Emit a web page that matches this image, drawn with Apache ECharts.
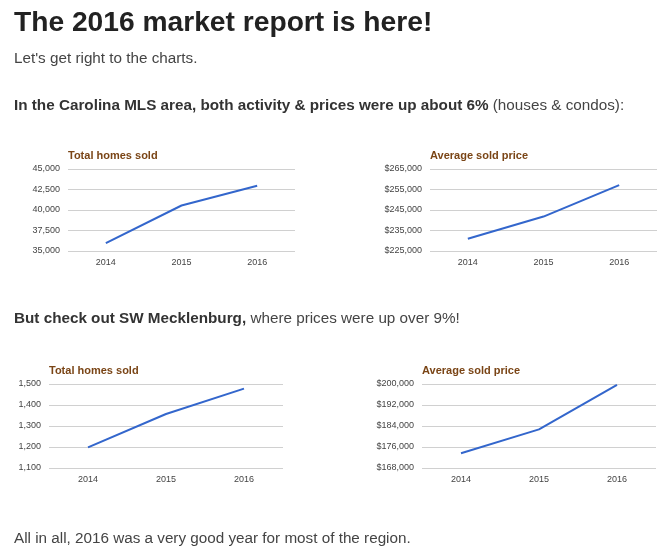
<!DOCTYPE html>
<html>
<head>
<meta charset="utf-8">
<script src="https://cdn.jsdelivr.net/npm/echarts@6/dist/echarts.min.js"></script>
<style>
  html,body{margin:0;padding:0;background:#fff;}
  #page{width:671px;height:552px;}
</style>
</head>
<body>
<div id="page"></div>
<script>
'use strict';

/* ---------- data ---------- */
const YEARS = ['2014', '2015', '2016'];
const CLT_SOLD  = [35950, 40550, 42950];
const CLT_PRICE = [231000, 241800, 257100];
const SWM_SOLD  = [1198, 1357, 1478];
const SWM_PRICE = [173600, 182700, 199700];
// [min, max, step] of each value axis
const CLT_SOLD_AXIS  = [35000, 45000, 2500];
const CLT_PRICE_AXIS = [225000, 265000, 10000];
const SWM_SOLD_AXIS  = [1100, 1500, 100];
const SWM_PRICE_AXIS = [168000, 200000, 8000];

/* ---------- look ---------- */
const FONT = 'Arial, "Liberation Sans", sans-serif';
const C = { head:'#222', body:'#444', bold:'#333', title:'#7a4516', axis:'#444', grid:'#d0d0d0', line:'#3366cc' };
const BODY = 15.25;

const num = v => v.toLocaleString('en-US');
const usd = v => '$' + v.toLocaleString('en-US');

// chart boxes: left, top, width, height
const boxes = [
  {l:68,  t:169, w:227, h:82},
  {l:430, t:169, w:227, h:82},
  {l:49,  t:384, w:234, h:84},
  {l:422, t:384, w:234, h:84},
];
const panels = [
  {name:'Total homes sold',   data:CLT_SOLD,  axis:CLT_SOLD_AXIS,  fmt:num},
  {name:'Average sold price', data:CLT_PRICE, axis:CLT_PRICE_AXIS, fmt:usd},
  {name:'Total homes sold',   data:SWM_SOLD,  axis:SWM_SOLD_AXIS,  fmt:num},
  {name:'Average sold price', data:SWM_PRICE, axis:SWM_PRICE_AXIS, fmt:usd},
];

const txt = (text, left, top, size, color, weight, rich) => ({
  text, left, top, padding:0,
  textStyle:{fontFamily:FONT, fontSize:size, color, fontWeight:weight||'normal', rich},
});
const richBody = {
  b:{fontFamily:FONT, fontSize:BODY, fontWeight:'bold', color:C.bold},
  n:{fontFamily:FONT, fontSize:BODY, color:C.body},
};

const titles = [
  txt('The 2016 market report is here!', 14, 9, 28.2, C.head, 'bold'),
  txt("Let's get right to the charts.", 14, 51, BODY, C.body),
  txt('{b|In the Carolina MLS area, both activity & prices were up about 6%}{n| (houses & condos):}', 14, 98, BODY, C.body, 'normal', richBody),
  txt('{b|But check out SW Mecklenburg,}{n| where prices were up over 9%!}', 14, 311, BODY, C.body, 'normal', richBody),
  txt('All in all, 2016 was a very good year for most of the region.', 14, 531, BODY, C.body),
];
panels.forEach((p, i) => {
  const b = boxes[i];
  titles.push(txt(p.name, b.l, b.t - 19, 11, C.title, 'bold'));
});

const grid = boxes.map(b => ({left:b.l, top:b.t, width:b.w, height:b.h}));

const xAxis = panels.map((p, i) => ({
  type:'category', gridIndex:i, data:YEARS, boundaryGap:true,
  axisLine:{show:false}, axisTick:{show:false},
  axisLabel:{fontFamily:FONT, fontSize:9, color:C.axis, margin:7},
}));

const yAxis = panels.map((p, i) => ({
  type:'value', gridIndex:i,
  min:p.axis[0], max:p.axis[1], interval:p.axis[2],
  axisLine:{show:false}, axisTick:{show:false},
  axisLabel:{fontFamily:FONT, fontSize:9, color:C.axis, margin:8, formatter:p.fmt},
  splitLine:{lineStyle:{color:C.grid, width:1}},
}));

const series = panels.map((p, i) => ({
  type:'line', xAxisIndex:i, yAxisIndex:i, data:p.data,
  symbol:'none', smooth:false,
  lineStyle:{color:C.line, width:2}, itemStyle:{color:C.line},
}));

const chart = echarts.init(document.getElementById('page'), null, {renderer:'canvas'});
chart.setOption({
  animation:false,
  backgroundColor:'#fff',
  title:titles,
  grid, xAxis, yAxis, series,
});
</script>
</body>
</html>
